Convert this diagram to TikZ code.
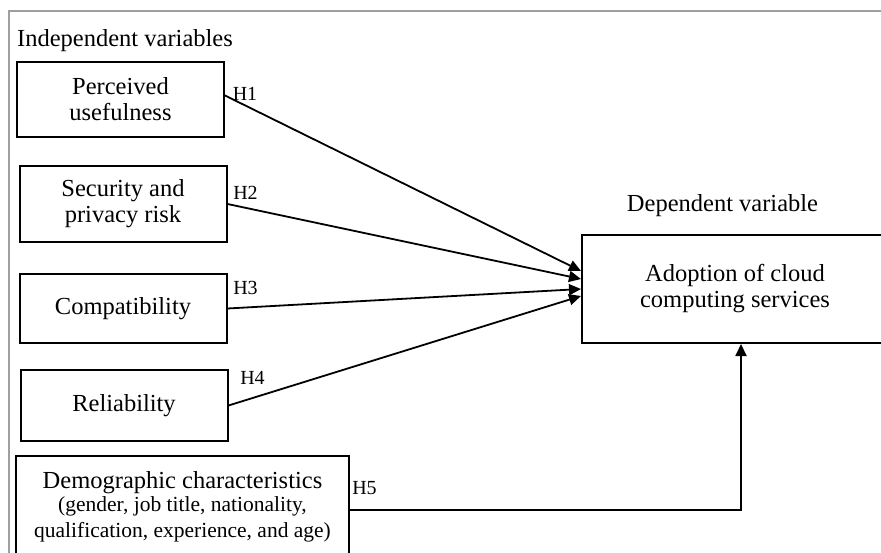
\documentclass[tikz,border=0pt]{standalone}
\usepackage{fontspec}
\setmainfont{Liberation Serif}
\usetikzlibrary{arrows.meta,positioning,calc}
\tikzset{
    varbox/.style={draw, line width=2pt, minimum width=207pt, align=center, inner sep=0pt, font=\fontsize{24.5}{26}\selectfont},
    effect/.style={-{Triangle[length=12pt, width=11pt]}, line width=1.8pt},
    hyp/.style={inner sep=0pt, font=\fontsize{20}{22}\selectfont},
    heading/.style={inner sep=0pt, font=\fontsize{24.5}{26}\selectfont},
    frame/.style={draw=gray!75, line width=2.5pt}
}

\begin{document}
\begin{tikzpicture}[x=1pt, y=-1pt]
\useasboundingbox (0,0) rectangle (881,553);
\draw[frame] (9,553) -- (9,11) -- (881,11);

\node[heading, anchor=base west] (indep) at (17,47) {Independent variables};
\node[heading, anchor=base] (dep) at (722.5,212) {Dependent variable};

\node[varbox, minimum height=75pt] (use) at (120.5,99.5) {Perceived\\usefulness};
\node[varbox, minimum height=76pt] (sec) at (123,204) {Security and\\privacy risk};
\node[varbox, minimum height=69pt] (comp) at (123,308.5) {Compatibility};
\node[varbox, minimum height=71pt] (rel) at (124,405.5) {Reliability};
\node[varbox, minimum width=333pt, minimum height=102pt] (demo) at (182.5,507)
    {Demographic characteristics\\[-3pt]
     \fontsize{21.5}{21}\selectfont (gender, job title, nationality,\\
     \fontsize{21.5}{21}\selectfont qualification, experience, and age)};
\node[varbox, minimum width=306pt, minimum height=108pt] (adopt) at (735,289)
    {Adoption of cloud\\computing services};

% hypotheses
\draw[effect] ([yshift=4pt]use.east) -- ([yshift=18pt]adopt.west);
\draw[effect] (sec.east) -- ([yshift=10pt]adopt.west);
\draw[effect] (comp.east) -- ([yshift=0pt]adopt.west);
\draw[effect] (rel.east) -- ([yshift=-7pt]adopt.west);
\draw[effect] ([yshift=-3pt]demo.east) -| ([xshift=6pt]adopt.south);

\node[hyp] (h1) at (245,94) {H1};
\node[hyp] (h2) at (245.5,193) {H2};
\node[hyp] (h3) at (245.5,288) {H3};
\node[hyp] (h4) at (252.5,378) {H4};
\node[hyp] (h5) at (364.5,488) {H5};
\end{tikzpicture}
\end{document}
